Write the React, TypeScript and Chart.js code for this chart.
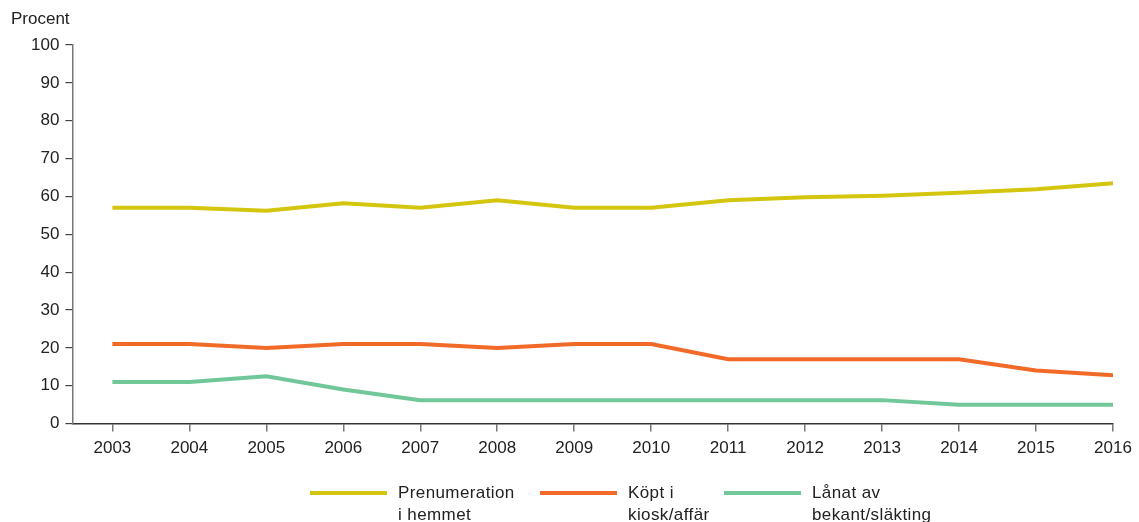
import React, { useEffect, useRef } from "react";
import { Chart, registerables } from "chart.js";

Chart.register(...registerables);

const years = [2003, 2004, 2005, 2006, 2007, 2008, 2009, 2010, 2011, 2012, 2013, 2014, 2015, 2016];
const prenumeration = [57, 57, 56.2, 58.2, 57, 59, 57, 57, 59, 59.8, 60.2, 61, 61.9, 63.5];
const kopt = [21, 21, 20, 21, 21, 20, 21, 21, 17, 17, 17, 17, 14, 12.8];
const lanat = [11, 11, 12.5, 9, 6.2, 6.2, 6.2, 6.2, 6.2, 6.2, 6.2, 5, 5, 5];
const seriesLabels = [["Prenumeration", "i hemmet"], ["Köpt i", "kiosk/affär"], ["Lånat av", "bekant/släkting"]];
const seriesColors = ["#d4c60e", "#f26a28", "#72c799"];
const yTicks = [0, 10, 20, 30, 40, 50, 60, 70, 80, 90, 100];
const legendLefts = [310, 540, 724];

const FONT = "'Liberation Sans', Arial, Helvetica, sans-serif";

export default function App() {
  const ref = useRef<HTMLCanvasElement | null>(null);

  useEffect(() => {
    document.body.style.margin = "0";
    const series = [prenumeration, kopt, lanat];
    const chart = new Chart(ref.current!, {
      type: "line",
      data: {
        datasets: series.map((vals, i) => ({
          label: seriesLabels[i].join(" "),
          data: vals.map((v, j) => ({ x: years[j], y: v })),
          borderColor: seriesColors[i],
          backgroundColor: seriesColors[i],
          borderWidth: 4,
          pointRadius: 0,
          tension: 0,
          fill: false,
        })),
      },
      options: {
        animation: false,
        responsive: false,
        maintainAspectRatio: false,
        layout: { padding: { top: 45, left: 25, right: 26, bottom: 56 } },
        plugins: { legend: { display: false }, tooltip: { enabled: false }, title: { display: false } },
        font: { family: FONT },
        scales: {
          x: {
            type: "linear",
            min: 2002.48,
            max: 2016,
            afterBuildTicks: (axis: any) => {
              axis.ticks = years.map((y) => ({ value: y }));
            },
            ticks: {
              font: { family: FONT, size: 17 },
              color: "#222",
              padding: 7,
              maxRotation: 0,
              callback: (v: any) => String(v),
            },
            grid: { display: true, drawOnChartArea: false, drawTicks: true, tickLength: 8, color: "#777", lineWidth: 1.5 },
            border: { display: true, color: "#333", width: 1.5 },
          },
          y: {
            min: 0,
            max: 100,
            afterBuildTicks: (axis: any) => {
              axis.ticks = yTicks.map((v) => ({ value: v }));
            },
            ticks: {
              font: { family: FONT, size: 17 },
              color: "#222",
              padding: 6,
            },
            grid: { display: true, drawOnChartArea: false, drawTicks: true, tickLength: 7, color: "#444", lineWidth: 1.2 },
            border: { display: true, color: "#777", width: 1.5 },
          },
        },
      },
    });
    return () => chart.destroy();
  }, []);

  return (
    <div style={{ position: "absolute", left: 0, top: 0, width: 1139, height: 522, fontFamily: FONT, color: "#222" }}>
      <canvas ref={ref} width={1139} height={522} style={{ position: "absolute", left: 0, top: 0 }} />
      <div style={{ position: "absolute", left: 11, top: 9, fontSize: 17 }}>Procent</div>
      {seriesLabels.map((lines, i) => (
        <div key={i} style={{ position: "absolute", left: legendLefts[i], top: 482, display: "flex" }}>
          <div style={{ width: 77, height: 4, background: seriesColors[i], marginTop: 9, marginRight: 11 }} />
          <div style={{ fontSize: 17, lineHeight: "22px", letterSpacing: "0.4px" }}>
            {lines.map((l, k) => (
              <div key={k}>{l}</div>
            ))}
          </div>
        </div>
      ))}
    </div>
  );
}
